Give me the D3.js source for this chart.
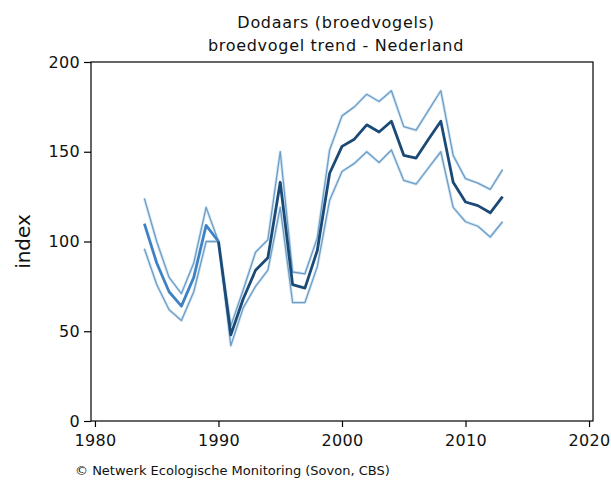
<!DOCTYPE html>
<html>
<head>
<meta charset="utf-8">
<script src="https://cdn.jsdelivr.net/npm/d3@7"></script>
<style>
  html, body { margin: 0; padding: 0; background: #fff; }
  svg { display: block; }
  text { font-family: "DejaVu Sans", Verdana, sans-serif; fill: #111; }
</style>
</head>
<body>
<script>
const years = d3.range(1984, 2014);
const trend = [110, 88, 72, 64, 80, 109, 100, 48, 68, 84, 91, 133, 76, 74, 95,
               138, 153, 157, 165, 161, 167, 148, 146.5, 157, 167, 133, 122, 120, 116, 125];
const upper = [124, 100, 80, 71, 88, 119, 100, 53, 73, 94, 101, 150, 83, 82, 102,
               151, 170, 175, 182, 178, 184, 164, 162, 173, 184, 148, 135, 132.5, 129, 140];
const lower = [96, 76, 62, 56, 72, 100, 100, 42, 63, 75, 84, 119, 66, 66, 86,
               123, 139, 143.5, 150, 144, 151, 134, 132, 141, 150, 119, 111, 108.5, 102.5, 111];
const xTicks = [1980, 1990, 2000, 2010, 2020];
const yTicks = [0, 50, 100, 150, 200];
const titleLines = ["Dodaars (broedvogels)", "broedvogel trend - Nederland"];
const yLabel = "index";
const footer = "© Netwerk Ecologische Monitoring (Sovon, CBS)";
const baseYear = 1990;

const W = 611, H = 491;
const L = 91, R = 593, T = 62, B = 421;

const svg = d3.select("body").append("svg").attr("width", W).attr("height", H);

const x = d3.scaleLinear().domain([1979.68, 2020.32]).range([L, R]);
const y = d3.scaleLinear().domain([0, 200]).range([B, T]);

// frame
svg.append("rect").attr("x", L).attr("y", T).attr("width", R - L).attr("height", B - T)
  .attr("fill", "none").attr("stroke", "#000").attr("stroke-width", 1.2);

// axes
const gx = svg.append("g").attr("transform", `translate(0,${B})`)
  .call(d3.axisBottom(x).tickValues(xTicks).tickFormat(d3.format("d")).tickSize(6).tickPadding(8));
const gy = svg.append("g").attr("transform", `translate(${L},0)`)
  .call(d3.axisLeft(y).tickValues(yTicks).tickSize(7).tickPadding(4));
[gx, gy].forEach(g => {
  g.select(".domain").remove();
  g.selectAll(".tick line").attr("stroke", "#000").attr("stroke-width", 1.2);
  g.selectAll(".tick text").style("font-size", "16px").style("letter-spacing", "0.3px").attr("fill", "#111");
});

const pts = arr => arr.map((v, i) => [years[i], v]);
const line = d3.line().x(d => x(d[0])).y(d => y(d[1]));

const g = svg.append("g");
[upper, lower].forEach(arr => {
  g.append("path").attr("d", line(pts(arr))).attr("fill", "none")
    .attr("stroke", "#d2e7f5").attr("stroke-width", 3).attr("stroke-linejoin", "round");
});
[upper, lower].forEach(arr => {
  g.append("path").attr("d", line(pts(arr))).attr("fill", "none")
    .attr("stroke", "#6f9cc4").attr("stroke-width", 1.3).attr("stroke-linejoin", "round");
});
const tp = pts(trend);
const early = tp.filter(d => d[0] <= baseYear);
const late = tp.filter(d => d[0] >= baseYear);
g.append("path").attr("d", line(early)).attr("fill", "none")
  .attr("stroke", "#3f82c4").attr("stroke-width", 2.8).attr("stroke-linejoin", "round");
g.append("path").attr("d", line(late)).attr("fill", "none")
  .attr("stroke", "#1b4a76").attr("stroke-width", 2.8).attr("stroke-linejoin", "round");

// titles
svg.selectAll(".title").data(titleLines).enter().append("text")
  .attr("x", 336).attr("y", (d, i) => 28 + i * 23)
  .attr("text-anchor", "middle").style("font-size", "16px").style("letter-spacing", "0.7px").text(d => d);

svg.append("text").attr("transform", `translate(30,${(T + B) / 2}) rotate(-90)`)
  .attr("text-anchor", "middle").style("font-size", "20px").attr("fill", "#444").text(yLabel);

svg.append("text").attr("x", 75).attr("y", 475).style("font-size", "13px").text(footer);
</script>
</body>
</html>
